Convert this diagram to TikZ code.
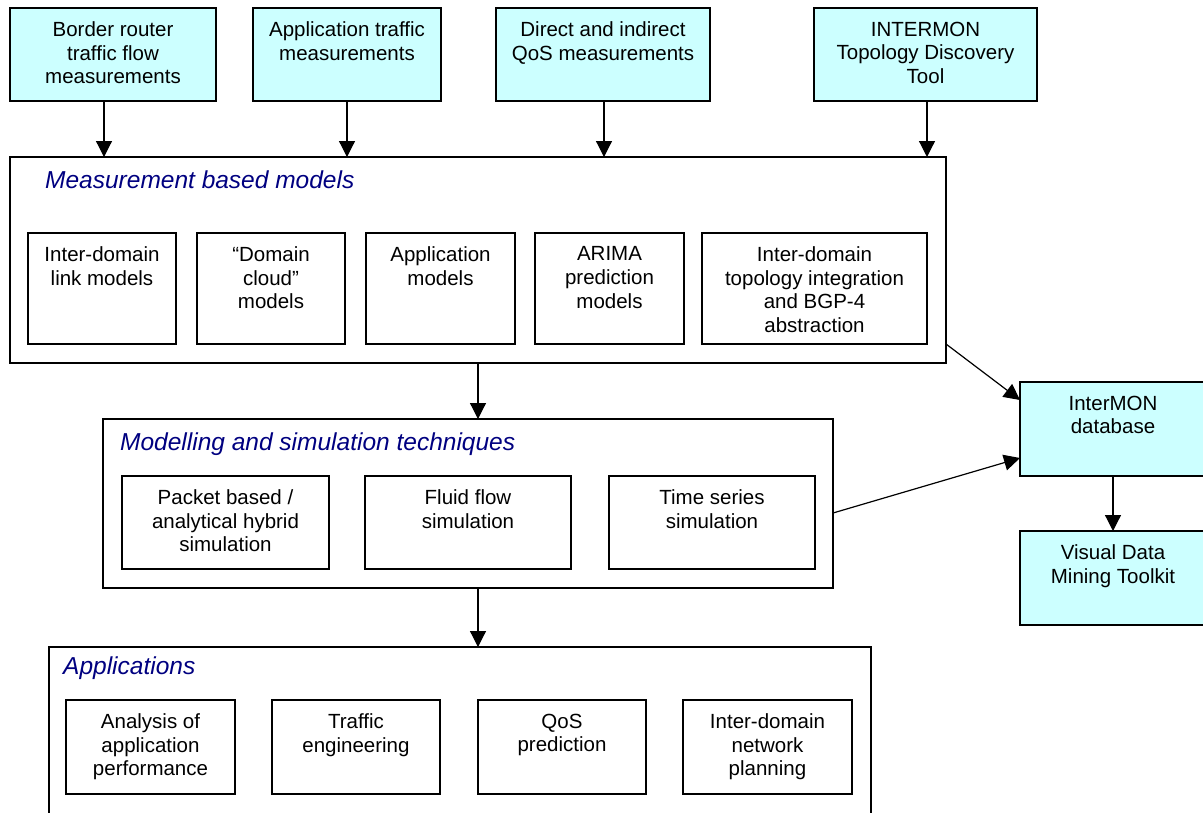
\documentclass[tikz,border=0pt]{standalone}
\usepackage{fontspec}
\setmainfont{Liberation Sans}
\usetikzlibrary{arrows.meta,calc}

\definecolor{srcfill}{HTML}{CCFFFF}
\definecolor{titlenavy}{HTML}{000080}

\tikzset{
  frame/.style={draw=black, line width=1.2pt, inner sep=0pt, outer sep=0pt},
  srcbox/.style={frame, fill=srcfill},
  plainbox/.style={frame, fill=white},
  boxtext/.style={inner sep=0pt, align=center, anchor=north,
    font=\fontsize{20.5pt}{23.6pt}\selectfont},
  grouptitle/.style={inner sep=0pt, anchor=base west, text=titlenavy,
    font=\fontsize{24.5pt}{28pt}\selectfont\itshape},
  link/.style={line width=1.2pt, -{Triangle[width=16pt,length=16pt]}},
}

% box given by its corners, with its text set at the top
\newcommand\diagbox[7]{% style, name, x1, y1, x2, y2, text
  \node[#1, minimum width={(#5-#3)*1pt}, minimum height={(#6-#4)*1pt},
        anchor=north west] (#2) at (#3,#4) {};
  \node[boxtext] (#2-text) at ([yshift=-13.5pt]#2.north) {#7};
}

\begin{document}
\begin{tikzpicture}[x=1pt, y=-1pt]
\useasboundingbox (0,0) rectangle (1203,812);

% data sources
\diagbox{srcbox}{s1}{10}{8}{216}{101}{Border router\\traffic flow\\measurements}
\diagbox{srcbox}{s2}{253}{8}{441}{101}{Application traffic\\measurements}
\diagbox{srcbox}{s3}{496}{8}{710}{101}{Direct and indirect\\QoS measurements}
\diagbox{srcbox}{s4}{814}{8}{1037}{101}{INTERMON\\Topology Discovery\\Tool}

% measurement based models
\node[frame, minimum width=936pt, minimum height=206pt, anchor=north west] (meas) at (10,157) {};
\node[grouptitle] (meastitle) at (45,188) {Measurement based models};
\diagbox{plainbox}{m1}{28}{233}{176}{344}{Inter-domain\\link models}
\diagbox{plainbox}{m2}{197}{233}{345}{344}{“Domain\\cloud”\\models}
\diagbox{plainbox}{m3}{366}{233}{515}{344}{Application\\models}
\diagbox{plainbox}{m4}{535}{233}{684}{344}{ARIMA\\prediction\\models}
\diagbox{plainbox}{m5}{702}{233}{927}{344}{Inter-domain\\topology integration\\and BGP-4\\abstraction}

% modelling and simulation techniques
\node[frame, minimum width=730pt, minimum height=169pt, anchor=north west] (mod) at (103,419) {};
\node[grouptitle] (modtitle) at (120,450) {Modelling and simulation techniques};
\diagbox{plainbox}{t1}{122}{476}{329}{569}{Packet based /\\analytical hybrid\\simulation}
\diagbox{plainbox}{t2}{365}{476}{571}{569}{Fluid flow\\simulation}
\diagbox{plainbox}{t3}{609}{476}{815}{569}{Time series\\simulation}

% applications
\node[frame, minimum width=822pt, minimum height=185pt, anchor=north west] (apps) at (49,647) {};
\node[grouptitle] (appstitle) at (63,674) {Applications};
\diagbox{plainbox}{a1}{66}{700}{235}{794}{Analysis of\\application\\performance}
\diagbox{plainbox}{a2}{272}{700}{440}{794}{Traffic\\engineering}
\diagbox{plainbox}{a3}{478}{700}{646}{794}{QoS\\prediction}
\diagbox{plainbox}{a4}{683}{700}{852}{794}{Inter-domain\\network\\planning}

% database and toolkit
\diagbox{srcbox}{db}{1020}{382}{1206}{476}{InterMON\\database}
\diagbox{srcbox}{vdm}{1020}{531}{1206}{625}{Visual Data\\Mining Toolkit}

% connectors
\draw[link] ([xshift=-9pt]s1.south) -- ([xshift=-9pt]s1.south |- meas.north);
\draw[link] (s2.south) -- (s2.south |- meas.north);
\draw[link] ([xshift=1pt]s3.south) -- ([xshift=1pt]s3.south |- meas.north);
\draw[link] ([xshift=1.5pt]s4.south) -- ([xshift=1.5pt]s4.south |- meas.north);

\draw[link] (meas.south) -- (meas.south |- mod.north);
\draw[link] ([xshift=10pt]mod.south) -- ([xshift=10pt]mod.south |- apps.north);
\draw[link] (db.south) -- (vdm.north);

\coordinate (measout) at (meas.east |- m5.south);
\coordinate (dbin1) at ($(db.north west)+(0,18)$);
\coordinate (modout) at ($(mod.north east)+(0,94)$);
\coordinate (dbin2) at ($(db.north west)+(0,76)$);
\draw[link] (measout) -- (dbin1);
\draw[link] (modout) -- (dbin2);
\end{tikzpicture}
\end{document}
